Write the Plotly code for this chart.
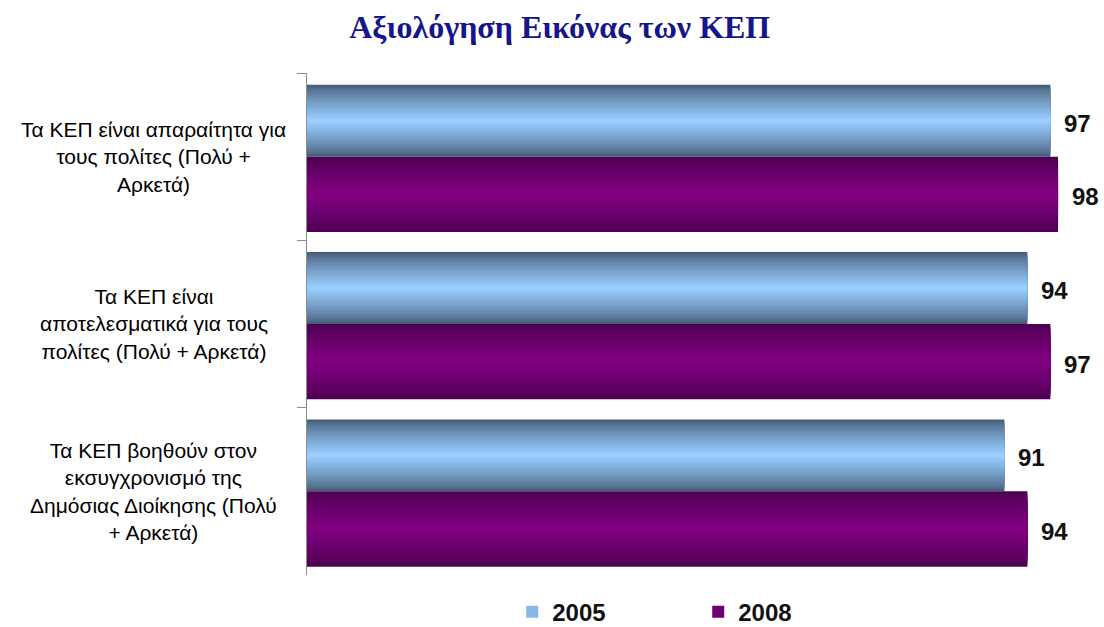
import plotly.graph_objects as go

# ---- data ----
categories = [
    "Τα ΚΕΠ είναι απαραίτητα για<br>τους πολίτες (Πολύ +<br>Αρκετά)",
    "Τα ΚΕΠ είναι<br>αποτελεσματικά για τους<br>πολίτες (Πολύ + Αρκετά)",
    "Τα ΚΕΠ βοηθούν στον<br>εκσυγχρονισμό της<br>Δημόσιας Διοίκησης (Πολύ<br>+ Αρκετά)",
]
cat_keys = ["c1", "c2", "c3"]
values_2005 = [97, 94, 91]
values_2008 = [98, 97, 94]
series_names = ["2005", "2008"]

# ---- style ----
blue_edge = (70, 95, 122)
blue_mid = (153, 204, 255)
purple_edge = (78, 0, 82)
purple_mid = (128, 0, 128)

def mix(a, b, t):
    return "rgb(%d,%d,%d)" % tuple(round(a[i] + (b[i] - a[i]) * t) for i in range(3))

fig = go.Figure()
N = 14
series = [
    (series_names[0], values_2005, blue_edge, blue_mid, -0.43, 0.43, N - 4),
    (series_names[1], values_2008, purple_edge, purple_mid, 0.0, 0.45, N // 2),
]
for name, vals, edge, mid, off, w, leg_k in series:
    center = off + w / 2
    for k in range(N):
        frac = 1 - k / N
        width = w * frac
        t = (k / (N - 1)) ** 0.8
        fig.add_trace(go.Bar(
            y=cat_keys, x=vals, orientation="h",
            width=[width] * len(vals), offset=[center - width / 2] * len(vals),
            marker=dict(color=mix(edge, mid, t), line=dict(width=0)),
            name=name, legendgroup=name,
            showlegend=(k == leg_k), hoverinfo="skip",
        ))

annotations = []
for vals, dy in [(values_2005, -0.2), (values_2008, 0.24)]:
    for i, v in enumerate(vals):
        annotations.append(dict(
            x=v, y=i + dy, xref="x", yref="y", text=str(v), showarrow=False,
            xanchor="left", yanchor="middle", xshift=12,
            font=dict(family="Liberation Sans, Arial", size=24, color="#111111", weight="bold"),
        ))
for i, c in enumerate(categories):
    annotations.append(dict(
        x=-0.192, y=i, xref="paper", yref="y", text=c, showarrow=False,
        xanchor="center", yanchor="middle", align="center",
        font=dict(family="Liberation Sans, Arial", size=21, color="#000000"),
    ))

fig.update_layout(
    width=1104, height=627,
    margin=dict(l=307, r=0, t=73, b=52, autoexpand=False),
    paper_bgcolor="white", plot_bgcolor="white",
    barmode="overlay",
    title=dict(text="<b>Αξιολόγηση Εικόνας των ΚΕΠ</b>", x=0.507, xanchor="center",
               y=0.957, yanchor="middle",
               font=dict(family="Liberation Serif, Times New Roman", size=32, color="#15158c")),
    xaxis=dict(range=[0, 104], visible=False, fixedrange=True),
    yaxis=dict(type="category", categoryorder="array", categoryarray=cat_keys,
               range=[2.5, -0.5], showticklabels=False,
               showline=True, linecolor="#8c8c8c", linewidth=1,
               ticks="outside", tickson="boundaries", ticklen=9, tickcolor="#8c8c8c",
               showgrid=False, zeroline=False),
    legend=dict(orientation="h", x=0.2575, xanchor="left", y=-0.074, yanchor="middle",
                font=dict(family="Liberation Sans, Arial", size=24, color="#111111", weight="bold"),
                entrywidth=141, itemwidth=30, traceorder="normal"),
    annotations=annotations,
    showlegend=True,
)
fig.write_html("out.html")
